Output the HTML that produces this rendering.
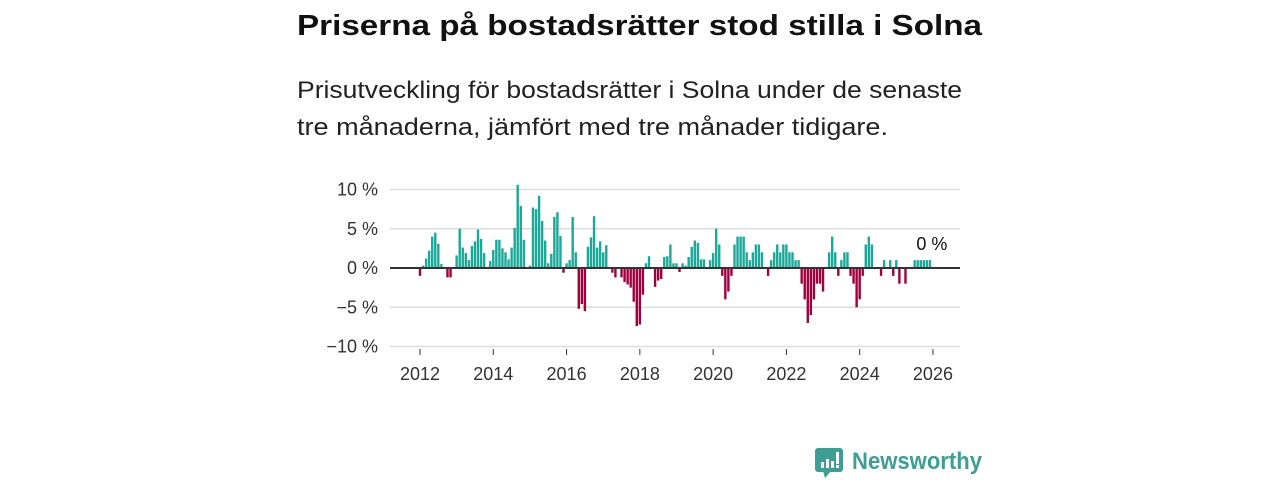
<!DOCTYPE html>
<html><head><meta charset="utf-8"><style>
body{margin:0;background:#fff;width:1280px;height:480px;overflow:hidden;font-family:"Liberation Sans",sans-serif;}
svg text{font-family:"Liberation Sans",sans-serif;}
</style></head><body>
<svg id="chart" width="1280" height="480" xmlns="http://www.w3.org/2000/svg">
<text x="297" y="35" font-size="29" font-weight="bold" fill="#111" textLength="685" lengthAdjust="spacingAndGlyphs">Priserna på bostadsrätter stod stilla i Solna</text>
<text x="297" y="98" font-size="24" fill="#222" textLength="665" lengthAdjust="spacingAndGlyphs">Prisutveckling för bostadsrätter i Solna under de senaste</text>
<text x="297" y="135" font-size="24" fill="#222" textLength="591" lengthAdjust="spacingAndGlyphs">tre månaderna, jämfört med tre månader tidigare.</text>
<g id="grid"></g><g id="bars"></g><g id="axes"></g>
<g>
<rect x="815" y="448" width="28" height="24" rx="3" fill="#3e9e94"/>
<polygon points="823,471 831,471 825,478" fill="#3e9e94"/>
<rect x="821" y="462" width="3" height="6" fill="#fff"/><rect x="826" y="459" width="3" height="9" fill="#fff"/><rect x="831" y="461" width="3" height="7" fill="#fff"/><rect x="836" y="452" width="3" height="12" fill="#fff"/><rect x="836" y="465" width="3" height="3" fill="#fff"/>
<text x="852" y="469" font-size="24" font-weight="bold" fill="#3e9e94" textLength="130" lengthAdjust="spacingAndGlyphs">Newsworthy</text>
</g>
</svg>
<script>
const years = [2012,2013,2014,2015,2016,2017,2018,2019,2020,2021,2022,2023,2024,2025];
const values2012 = [-1,0.3,1.2,2.2,4,4.5,3.1,0.5,-0.1,-1.2,-1.2,-0.1];
const values2013 = [1.6,5,2.6,1.9,1,2.8,3.4,4.9,3.7,1.9,0,0.9];
const values2014 = [2.3,3.6,3.6,2.5,2.0,1.1,2.6,5.1,10.6,7.9,3.6,0];
const values2015 = [0.3,7.7,7.5,9.2,6,3.5,0.6,1.8,6.5,7.1,4.1,-0.6];
const values2016 = [0.6,1.0,6.5,2.0,-5.2,-4.6,-5.5,2.7,3.9,6.6,2.6,3.4];
const values2017 = [2.0,2.9,0,-0.6,-1.2,0.1,-1.2,-1.8,-2.1,-2.5,-4.3,-7.4];
const values2018 = [-7.2,-3.4,0.6,1.5,0,-2.4,-1.6,-1.4,1.4,1.5,3.0,0.6];
const values2019 = [0.6,-0.5,0.6,0.3,1.4,2.7,3.5,3.2,1.1,1.1,0,1.0];
const values2020 = [1.9,5.0,3.0,-1.0,-4.0,-3.0,-1.0,3.0,4.0,4.0,4.0,2.0];
const values2021 = [1.0,2.0,3.0,3.0,2.0,0,-1.0,1,2,3,2,3];
const values2022 = [3,2,2,1,1,-2,-4,-7,-6,-4,-2,-2];
const values2023 = [-3,0,2,4,2,-1,1,2,2,-1,-2,-5];
const values2024 = [-4,-1,3,4,3,0,0,-1,1,0,1,-1];
const values2025 = [1,-2,0,-2,0,0,1,1,1,1,1,1];
const yTicks = [10,5,0,-5,-10];
const yTickLabels = ["10 %","5 %","0 %","−5 %","−10 %"];
const xTicks = [2012,2014,2016,2018,2020,2022,2024,2026];
const lastLabel = "0 %";

const values = [].concat(values2012,values2013,values2014,values2015,values2016,values2017,values2018,values2019,values2020,values2021,values2022,values2023,values2024,values2025);
const NS="http://www.w3.org/2000/svg";
const x = t => 420 + (t-2012)*36.64;
const y = v => 268 - v*7.85;
function mk(tag, attrs, parent){const e=document.createElementNS(NS,tag);for(const k in attrs)e.setAttribute(k,attrs[k]);document.getElementById(parent).appendChild(e);return e;}

yTicks.forEach((v,i)=>{
  const l=mk('line',{x1:390,x2:960,y1:y(v),y2:y(v),stroke:v===0?'#333':'#ddd','stroke-width':v===0?2:1.5},v===0?'axes':'grid');
  
  
  const t=mk('text',{x:378,y:y(v)+6,'text-anchor':'end','font-size':18,fill:'#333'},'axes');
  t.textContent=yTickLabels[i];
  
  
});
xTicks.forEach(yr=>{
  const tk=mk('line',{x1:x(yr),x2:x(yr),y1:349,y2:355,stroke:'#333','stroke-width':1},'axes');
  
  
  const t=mk('text',{x:x(yr),y:380,'text-anchor':'middle','font-size':18,fill:'#333'},'axes');
  t.textContent=yr;
  
  
});
values.forEach((v,i)=>{
  const t=2012+i/12;
  const top=Math.min(y(v),y(0)), h=Math.abs(y(v)-y(0));
  const r=mk('rect',{x:x(t)-1.2,y:top,width:2.4,height:Math.max(h,0.5),fill:v>=0?'#1aa898':'#a0003c'},'bars');
  
  
});
const lt=mk('text',{x:x(2012+(values.length-1)/12)+2,y:y(values[values.length-1])-10,'text-anchor':'middle','font-size':18,fill:'#111'},'axes');
lt.textContent=lastLabel;


</script>
</body></html>
